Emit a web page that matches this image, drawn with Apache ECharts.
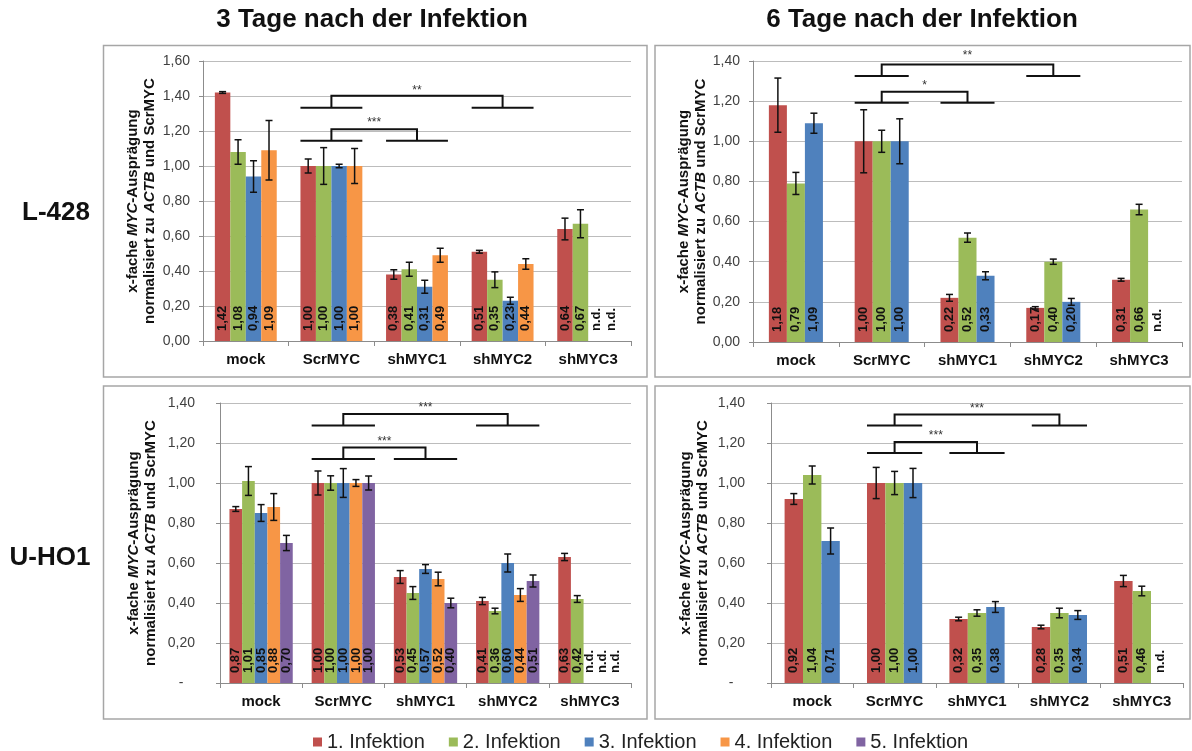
<!DOCTYPE html>
<html>
<head>
<meta charset="utf-8">
<title>MYC-Ausprägung</title>
<script src="https://cdn.jsdelivr.net/npm/echarts@6/dist/echarts.min.js"></script>
<style>
  html, body { margin: 0; padding: 0; background: #ffffff; }
  #chart { width: 1192px; height: 751px; }
</style>
</head>
<body>
<div id="chart"></div>
<script>
// Categories and series
const categories = ['mock', 'ScrMYC', 'shMYC1', 'shMYC2', 'shMYC3'];
const seriesNames = ['1. Infektion', '2. Infektion', '3. Infektion', '4. Infektion', '5. Infektion'];

// L-428, 3 Tage (rows = Infektion 1..4, null = n.d.)
const l428d3 = [
  [1.42, 1.00, 0.38, 0.51, 0.64],
  [1.08, 1.00, 0.41, 0.35, 0.67],
  [0.94, 1.00, 0.31, 0.23, null],
  [1.09, 1.00, 0.49, 0.44, null]
];
const l428d3Err = [
  [0.005, 0.04, 0.027, 0.008, 0.062],
  [0.07, 0.105, 0.04, 0.045, 0.08],
  [0.09, 0.01, 0.037, 0.02, null],
  [0.17, 0.10, 0.04, 0.03, null]
];

// L-428, 6 Tage
const l428d6 = [
  [1.18, 1.00, 0.22, 0.17, 0.31],
  [0.79, 1.00, 0.52, 0.40, 0.66],
  [1.09, 1.00, 0.33, 0.20, null]
];
const l428d6Err = [
  [0.135, 0.157, 0.017, 0.006, 0.007],
  [0.055, 0.055, 0.023, 0.013, 0.026],
  [0.05, 0.112, 0.02, 0.017, null]
];

// U-HO1, 3 Tage
const uho1d3 = [
  [0.87, 1.00, 0.53, 0.41, 0.63],
  [1.01, 1.00, 0.45, 0.36, 0.42],
  [0.85, 1.00, 0.57, 0.60, null],
  [0.88, 1.00, 0.52, 0.44, null],
  [0.70, 1.00, 0.40, 0.51, null]
];
const uho1d3Err = [
  [0.012, 0.06, 0.032, 0.018, 0.018],
  [0.072, 0.036, 0.032, 0.014, 0.017],
  [0.042, 0.072, 0.022, 0.045, null],
  [0.067, 0.017, 0.034, 0.032, null],
  [0.038, 0.035, 0.024, 0.03, null]
];

// U-HO1, 6 Tage
const uho1d6 = [
  [0.92, 1.00, 0.32, 0.28, 0.51],
  [1.04, 1.00, 0.35, 0.35, 0.46],
  [0.71, 1.00, 0.38, 0.34, null]
];
const uho1d6Err = [
  [0.027, 0.078, 0.009, 0.009, 0.028],
  [0.045, 0.058, 0.016, 0.024, 0.024],
  [0.065, 0.073, 0.027, 0.022, null]
];

// Significance brackets: group a vs group b, line heights and star label height
const l428d3Sig = [
  { a: 1, b: 3, low: 1.333, high: 1.402, stars: '**', ly: 1.447 },
  { a: 1, b: 2, low: 1.145, high: 1.21, stars: '***', ly: 1.263 }
];
const l428d6Sig = [
  { a: 1, b: 3, low: 1.325, high: 1.383, stars: '**', ly: 1.44 },
  { a: 1, b: 2, low: 1.192, high: 1.247, stars: '*', ly: 1.294 }
];
const uho1d3Sig = [
  { a: 1, b: 3, low: 1.287, high: 1.345, stars: '***', ly: 1.39 },
  { a: 1, b: 2, low: 1.12, high: 1.177, stars: '***', ly: 1.22 }
];
const uho1d6Sig = [
  { a: 1, b: 3, low: 1.287, high: 1.343, stars: '***', ly: 1.385 },
  { a: 1, b: 2, low: 1.15, high: 1.205, stars: '***', ly: 1.253 }
];

const colors = ['#C0504D', '#9BBB59', '#4F81BD', '#F79646', '#8064A2'];
const FONT = '"Liberation Sans", Arial, Helvetica, sans-serif';

const panels = [
  { grid: { left: 203, top: 61, width: 428, height: 280 }, values: l428d3, errors: l428d3Err, sig: l428d3Sig, max: 1.6, gap: 0.277, nameGap: 45, labelMargin: 13, dashZero: false },
  { grid: { left: 753, top: 61, width: 429, height: 281 }, values: l428d6, errors: l428d6Err, sig: l428d6Sig, max: 1.4, gap: 0.37, nameGap: 43, labelMargin: 13, dashZero: false },
  { grid: { left: 220, top: 403, width: 411, height: 280 }, values: uho1d3, errors: uho1d3Err, sig: uho1d3Sig, max: 1.4, gap: 0.23, nameGap: 61, labelMargin: 25, dashZero: true },
  { grid: { left: 771, top: 403, width: 412, height: 280 }, values: uho1d6, errors: uho1d6Err, sig: uho1d6Sig, max: 1.4, gap: 0.33, nameGap: 60, labelMargin: 26, dashZero: true }
];

const fmt = v => v.toFixed(2).replace('.', ',');

const grids = [], xAxes = [], yAxes = [], series = [];

panels.forEach((p, pi) => {
  grids.push(Object.assign({ containLabel: false }, p.grid));

  xAxes.push({
    type: 'category', gridIndex: pi, data: categories,
    axisLine: { lineStyle: { color: '#8c8c8c', width: 1 } },
    axisTick: { show: true, length: 5, lineStyle: { color: '#8c8c8c' } },
    axisLabel: { fontFamily: FONT, fontSize: 15, fontWeight: 'bold', color: '#111', margin: 11 }
  });

  yAxes.push({
    type: 'value', gridIndex: pi, min: 0, max: p.max, interval: 0.2,
    name: '{n|x-fache }{i|MYC}{n|-Ausprägung}\n{n|normalisiert zu }{i|ACTB}{n| und ScrMYC}',
    nameLocation: 'middle', nameRotate: 90, nameGap: p.nameGap,
    nameTextStyle: {
      rich: {
        n: { fontFamily: FONT, fontSize: 15, fontWeight: 'bold', color: '#111', lineHeight: 17 },
        i: { fontFamily: FONT, fontSize: 15, fontWeight: 'bold', fontStyle: 'italic', color: '#111', lineHeight: 17 }
      }
    },
    axisLine: { show: true, lineStyle: { color: '#8c8c8c', width: 1 } },
    axisTick: { show: true, length: 4, lineStyle: { color: '#8c8c8c' } },
    splitLine: { show: true, lineStyle: { color: '#bcbcbc', width: 1 } },
    axisLabel: {
      fontFamily: FONT, fontSize: 14, color: '#404040', margin: p.labelMargin,
      formatter: v => (v === 0 && p.dashZero) ? '-   ' : fmt(v)
    }
  });

  const n = p.values.length;

  // Bars with value labels at the bottom
  p.values.forEach((row, si) => {
    series.push({
      type: 'bar', name: seriesNames[si], xAxisIndex: pi, yAxisIndex: pi,
      barGap: '0%', barCategoryGap: (p.gap * 100).toFixed(1) + '%',
      itemStyle: { color: colors[si] },
      label: {
        show: true, position: 'insideBottom', distance: 10, rotate: 90,
        align: 'left', verticalAlign: 'middle',
        fontFamily: FONT, fontSize: 13, fontWeight: 'bold', color: '#111',
        formatter: prm => fmt(prm.value)
      },
      data: row.map(v => v === null ? { value: 0, label: { formatter: 'n.d.' } } : v)
    });
  });

  // Error bars
  const errItems = [];
  p.values.forEach((row, si) => row.forEach((v, ci) => {
    if (v !== null) errItems.push({ si, ci, v, e: p.errors[si][ci] });
  }));
  series.push({
    type: 'custom', xAxisIndex: pi, yAxisIndex: pi, z: 5, silent: true,
    data: errItems.map(d => [d.ci, d.v]),
    renderItem: (params, api) => {
      const d = errItems[params.dataIndex];
      const catW = api.size([1, 0])[0];
      const grpW = catW * (1 - p.gap);
      const bw = grpW / n;
      const c = api.coord([d.ci, d.v]);
      const x = c[0] - grpW / 2 + (d.si + 0.5) * bw;
      const yt = api.coord([d.ci, d.v + d.e])[1];
      const yb = api.coord([d.ci, d.v - d.e])[1];
      const cap = 3.5;
      const st = { stroke: '#111', lineWidth: 1.5 };
      return {
        type: 'group', children: [
          { type: 'line', shape: { x1: x, y1: yt, x2: x, y2: yb }, style: st },
          { type: 'line', shape: { x1: x - cap, y1: yt, x2: x + cap, y2: yt }, style: st },
          { type: 'line', shape: { x1: x - cap, y1: yb, x2: x + cap, y2: yb }, style: st }
        ]
      };
    }
  });

  // Significance brackets
  series.push({
    type: 'custom', xAxisIndex: pi, yAxisIndex: pi, z: 6, silent: true,
    data: p.sig.map(s => [s.a, s.high]),
    renderItem: (params, api) => {
      const s = p.sig[params.dataIndex];
      const catW = api.size([1, 0])[0];
      const half = catW * (1 - p.gap) / 2;
      const xa = api.coord([s.a, 0])[0];
      const xb = api.coord([s.b, 0])[0];
      const yl = api.coord([0, s.low])[1];
      const yh = api.coord([0, s.high])[1];
      const ys = api.coord([0, s.ly])[1];
      const st = { stroke: '#111', lineWidth: 2 };
      return {
        type: 'group', children: [
          { type: 'line', shape: { x1: xa - half, y1: yl, x2: xa + half, y2: yl }, style: st },
          { type: 'line', shape: { x1: xb - half, y1: yl, x2: xb + half, y2: yl }, style: st },
          { type: 'polyline', shape: { points: [[xa, yl], [xa, yh], [xb, yh], [xb, yl]] }, style: Object.assign({ fill: 'none' }, st) },
          { type: 'text', x: (xa + xb) / 2, y: ys + 3, style: { text: s.stars, fill: '#333', font: '12px ' + FONT, textAlign: 'center', textVerticalAlign: 'middle' } }
        ]
      };
    }
  });
});

const border = (x1, y1, x2, y2) => ({
  type: 'rect', silent: true, z: -1,
  shape: { x: x1, y: y1, width: x2 - x1, height: y2 - y1 },
  style: { fill: 'none', stroke: '#a6a6a6', lineWidth: 1.5 }
});
const label = (x, y, text, size) => ({
  type: 'text', silent: true, x, y,
  style: { text, fill: '#111', font: 'bold ' + size + 'px ' + FONT, textAlign: 'center', textVerticalAlign: 'middle' }
});

const option = {
  animation: false,
  backgroundColor: '#ffffff',
  color: colors,
  grid: grids,
  xAxis: xAxes,
  yAxis: yAxes,
  series,
  legend: {
    data: seriesNames, left: 308, top: 727,
    icon: 'rect', itemWidth: 9, itemHeight: 9, itemGap: 24,
    textStyle: { fontFamily: FONT, fontSize: 20, color: '#222' }
  },
  graphic: [
    border(103.5, 45.5, 647, 377),
    border(655, 45.5, 1190, 377),
    border(103.5, 386, 647, 719),
    border(655, 386, 1190, 719),
    label(372, 20, '3 Tage nach der Infektion', 26),
    label(922, 20, '6 Tage nach der Infektion', 26),
    label(56, 213, 'L-428', 26),
    label(50, 558, 'U-HO1', 26)
  ]
};

const chart = echarts.init(document.getElementById('chart'), null, { renderer: 'canvas' });
chart.setOption(option);
</script>
</body>
</html>
